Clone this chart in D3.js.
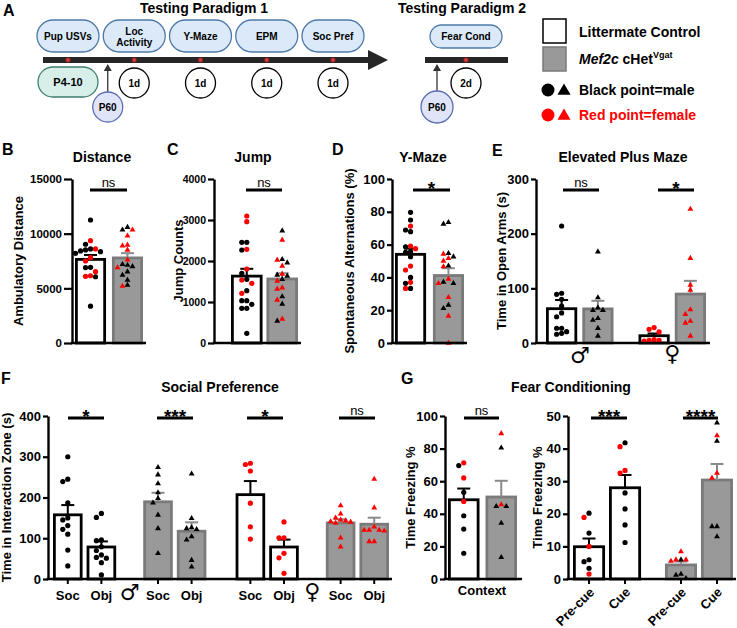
<!DOCTYPE html>
<html><head><meta charset="utf-8">
<script src="https://cdn.jsdelivr.net/npm/d3@7"></script>
<style>body{margin:0;background:#fff}svg{display:block}</style>
</head><body><script>
// ================= DATA =================
// Panel A schematic
const paradigm1Stages = ["Pup USVs", "Loc|Activity", "Y-Maze", "EPM", "Soc Pref"];
const paradigm1Gaps = ["1d", "1d", "1d", "1d"];
const paradigm2Stages = ["Fear Cond"];
const paradigm2Gaps = ["2d"];
const legendLabels = ["Littermate Control", "Mef2c cHet", "Black point=male", "Red point=female"];

// Panel B: Ambulatory distance
const distCtrlM = [11250, 9030, 8600, 8510, 8420, 8350, 8200, 6920, 6900, 6060, 3370];
const distCtrlF = [9360, 8600, 7800, 7500, 6520, 6150, 6100];
const distHetM = [10590, 10350, 7200, 7000, 7130, 6520, 6210, 5750, 5300];
const distHetF = [10350, 9800, 8970, 8900, 8510, 7600, 6900, 5200];
const distTicks = [0, 5000, 10000, 15000];

// Panel C: Jump counts
const jumpCtrlM = [2455, 2455, 2268, 1700, 1553, 1276, 1032, 1032, 944, 846, 846, 236];
const jumpCtrlF = [3098, 2960, 2285, 1805, 1537, 1455, 1211];
const jumpHetM = [2739, 1959, 2041, 1659, 1634, 1553, 1130, 951, 537];
const jumpHetF = [2512, 2024, 1878, 1683, 1512, 1317, 1349, 1049, 585];
const jumpTicks = [0, 1000, 2000, 3000, 4000];

// Panel D: Y-maze spontaneous alternations (%)
const ymazeCtrlM = [79.7, 75, 67.9, 68.9, 58.7, 55.3, 55.7, 52.6, 40, 36.4, 33.3];
const ymazeCtrlF = [71.3, 59.1, 57.5, 46.9, 44.5, 37, 33.3];
const ymazeHetM = [72.6, 73.6, 52.6, 54.7, 47, 36.4, 37.2, 23.2, 21.1];
const ymazeHetF = [51.6, 54.3, 50, 46.6, 36.4, 27.8, 16.5, 0, 39];
const ymazeTicks = [0, 20, 40, 60, 80, 100];

// Panel E: EPM time in open arms (s)
const epmCtrlM = [214, 89, 91, 80, 67.7, 55, 48, 27, 27, 16, 20.7, 17.7];
const epmHetM = [167, 83, 60, 64.6, 60, 42, 45, 27, 12.8];
const epmCtrlF = [20.2, 25.1, 28.2, 3.7, 4.9, 4.9, 6.1];
const epmHetF = [245, 155, 96.7, 106, 61, 40, 52.6, 36.7, 12.9];
const epmTicks = [0, 100, 200, 300];

// Panel F: Social preference, time in interaction zone (s)
const socCtrlM = [300, 239, 245, 187, 145, 150, 131, 122, 110, 71, 32];
const objCtrlM = [161, 151, 96, 94, 79, 70, 59, 53, 51, 40, 10];
const socHetM = [274, 256, 234, 212, 198, 187, 157, 124, 63];
const objHetM = [258, 149, 126, 124, 122, 104, 96, 46, 30];
const socCtrlF = [281, 284, 265, 186, 128, 98];
const objCtrlF = [140, 101, 101, 63, 52, 14];
const socHetF = [180, 160, 150, 145, 143, 141, 140, 137, 101, 79];
const objHetF = [245, 175, 128, 120, 120, 120, 118, 92, 92];
const socTicks = [0, 100, 200, 300, 400];
const socZones = ["Soc", "Obj"];

// Panel G: Fear conditioning, time freezing %
const ctxCtrlM = [69.6, 53.2, 38.8, 30.6, 15.8];
const ctxCtrlF = [71.3, 62, 47.6];
const ctxHetM = [80.5, 44.6, 44.6, 34.3, 13.3];
const ctxHetF = [89.3, 45.6];
const preCtrlM = [20.2, 14.1, 5.3, 5.9, 3.3];
const preCtrlF = [18.9, 10, 1.5];
const cueCtrlM = [41.8, 26.4, 21.5, 16.6, 11.2];
const cueCtrlF = [40.6, 32.5, 33.3];
const preHetM = [5.9, 1.5, 1.2, 0.2];
const preHetF = [8.4, 5.9, 5.9, 5.5];
const cueHetM = [47.9, 42.3, 16.1, 16.1, 13];
const cueHetF = [44, 32.5, 31];
const ctxTicks = [0, 20, 40, 60, 80, 100];
const cueTicks = [0, 10, 20, 30, 40, 50];
const cuePhases = ["Pre-cue", "Cue"];

// ================= DRAWING =================
const W = 737, H = 628;
const svg = d3.select('body').append('svg').attr('width', W).attr('height', H);
const FONT = "'Liberation Sans',Arial,sans-serif";
const SYM = "'DejaVu Sans',sans-serif";
const GREY = '#999999', GREY_STROKE = '#7a7a7a', RED = '#ff0000';

function txt(g, s, x, y, o = {}) {
  return g.append('text').attr('x', x).attr('y', y).text(s)
    .style('font-size', (o.fs || 13) + 'px').style('font-weight', o.fw || 'bold')
    .attr('text-anchor', o.anchor || 'middle').attr('fill', o.fill || '#000')
    .style('font-family', o.ff || FONT);
}

function swarm(items, y, cx, step) {
  const pts = items.map(d => ({ ...d, py: y(d.v) })).sort((a, b) => a.py - b.py);
  const placed = [];
  pts.forEach(p => {
    for (let k = 0; k < 30; k++) {
      const off = k === 0 ? 0 : (k % 2 ? -1 : 1) * Math.ceil(k / 2) * step;
      if (!placed.some(q => Math.hypot(q.px - (cx + off), q.py - p.py) < step - 0.1)) { p.px = cx + off; break; }
    }
    placed.push(p);
  });
  return placed;
}

function drawPanel(o) {
  const g = svg.append('g');
  const y = d3.scaleLinear().domain([0, o.max]).range([o.bot, o.top]);
  o.bars.forEach(b => {
    const items = b.m.map(v => ({ v, sex: 'm' })).concat(b.f.map(v => ({ v, sex: 'f' })));
    const all = items.map(d => d.v);
    const mean = d3.mean(all), sem = d3.deviation(all) / Math.sqrt(all.length);
    const het = b.geno === 'het';
    const sw = 2.8;
    g.append('rect').attr('x', b.x + sw / 2).attr('width', b.w - sw)
      .attr('y', y(mean)).attr('height', o.bot - y(mean))
      .attr('fill', het ? GREY : '#fff').attr('stroke', het ? GREY_STROKE : '#000').attr('stroke-width', sw);
    const cx = b.x + b.w / 2;
    const ec = het ? '#8a8a8a' : '#000';
    g.append('line').attr('x1', cx).attr('x2', cx).attr('y1', y(mean)).attr('y2', y(mean + sem)).attr('stroke', ec).attr('stroke-width', 2);
    g.append('line').attr('x1', cx - 6.5).attr('x2', cx + 6.5).attr('y1', y(mean + sem)).attr('y2', y(mean + sem)).attr('stroke', ec).attr('stroke-width', 2);
    const pts = swarm(items, y, cx, o.step || 5);
    pts.forEach(p => {
      const col = p.sex === 'm' ? '#000' : RED;
      if (het) g.append('path').attr('d', d3.symbol(d3.symbolTriangle, 15)()).attr('transform', `translate(${p.px},${p.py})`).attr('fill', col);
      else g.append('circle').attr('cx', p.px).attr('cy', p.py).attr('r', 2.6).attr('fill', col);
    });
    if (o.xTicks) g.append('line').attr('x1', cx).attr('x2', cx).attr('y1', o.bot).attr('y2', o.bot + 5).attr('stroke', '#000').attr('stroke-width', 2);
  });
  const ax = g.append('g').attr('transform', `translate(${o.axisX},0)`)
    .call(d3.axisLeft(y).tickValues(o.ticks).tickSize(o.tick || 5).tickSizeOuter(0).tickPadding(2).tickFormat(d3.format('d')));
  ax.select('.domain').attr('stroke', '#000').attr('stroke-width', 2.4);
  ax.selectAll('.tick line').attr('stroke', '#000').attr('stroke-width', 2.2);
  ax.selectAll('.tick text').style('font-size', (o.fs || 13) + 'px').style('font-weight', 'bold').style('font-family', FONT).attr('fill', '#000');
  g.append('line').attr('x1', o.axisX - 1.2).attr('x2', o.axisEnd).attr('y1', o.bot).attr('y2', o.bot).attr('stroke', '#000').attr('stroke-width', 2.4);
  txt(g, o.ytitle, o.ytitleX, (o.top + o.bot) / 2, { fs: 13 })
    .attr('transform', `rotate(-90,${o.ytitleX},${(o.top + o.bot) / 2})`).attr('dy', '0.35em');
  (o.sig || []).forEach(s => {
    g.append('line').attr('x1', s.x0).attr('x2', s.x1).attr('y1', s.y).attr('y2', s.y).attr('stroke', '#000').attr('stroke-width', 3);
    if (s.t === 'ns') txt(g, 'ns', (s.x0 + s.x1) / 2, s.y - 3.5, { fs: 13, fw: 'normal' });
    else txt(g, s.t, (s.x0 + s.x1) / 2, s.y + 4.5, { fs: 19 });
  });
  return { g, y };
}

// ---------- Panel A ----------
const A = svg.append('g');
txt(A, 'A', 3, 16, { fs: 16, anchor: 'start' });
txt(A, 'Testing Paradigm 1', 204, 13, { fs: 14 });
txt(A, 'Testing Paradigm 2', 462, 13, { fs: 14 });
const stageX = d3.scalePoint().domain(paradigm1Stages).range([68, 333]);
const PILL = '#dbe9f8', PILL_S = '#4d79a8';
A.append('rect').attr('x', 43).attr('y', 57).attr('width', 327).attr('height', 6).attr('fill', '#262626');
A.append('path').attr('d', 'M368,50 L388,60 L368,70 Z').attr('fill', '#262626');
paradigm1Stages.forEach((s, i) => {
  const x = stageX(s);
  A.append('rect').attr('x', x - 31).attr('y', 20).attr('width', 62).attr('height', 32).attr('rx', 16)
    .attr('fill', PILL).attr('stroke', PILL_S).attr('stroke-width', 1.3);
  const lines = s.split('|');
  if (lines.length === 1) txt(A, s, x, 40, { fs: 10 });
  else { txt(A, lines[0], x, 34.5, { fs: 10 }); txt(A, lines[1], x, 45.5, { fs: 10 }); }
  A.append('circle').attr('cx', x).attr('cy', 60).attr('r', 2.3).attr('fill', '#d23c3c').attr('stroke', '#8b1a1a').attr('stroke-width', 0.7);
  if (i > 0) {
    A.append('circle').attr('cx', x).attr('cy', 83).attr('r', 15).attr('fill', '#fff').attr('stroke', '#000').attr('stroke-width', 1.3);
    txt(A, paradigm1Gaps[i - 1], x, 87, { fs: 10 });
  }
});
{
  const x0 = stageX(paradigm1Stages[0]);
  A.append('rect').attr('x', x0 - 30).attr('y', 67).attr('width', 60).attr('height', 30).attr('rx', 15)
    .attr('fill', '#d7efe8').attr('stroke', '#3f7f70').attr('stroke-width', 1.3);
  txt(A, 'P4-10', x0, 86, { fs: 11 });
  const px = x0 + 0.6 * stageX.step();
  A.append('line').attr('x1', px).attr('x2', px).attr('y1', 92).attr('y2', 68).attr('stroke', '#333').attr('stroke-width', 1.3);
  A.append('path').attr('d', `M${px - 4},${71} L${px},${64} L${px + 4},${71} Z`).attr('fill', '#333');
  A.append('circle').attr('cx', px).attr('cy', 107).attr('r', 15).attr('fill', '#dfe4f8').attr('stroke', '#5b6db0').attr('stroke-width', 1.3);
  txt(A, 'P60', px, 111, { fs: 10 });
}
{
  const x2 = 466;
  A.append('rect').attr('x', 425).attr('y', 57).attr('width', 83).attr('height', 6).attr('fill', '#262626');
  A.append('rect').attr('x', x2 - 36).attr('y', 25).attr('width', 72).attr('height', 23).attr('rx', 11.5)
    .attr('fill', PILL).attr('stroke', PILL_S).attr('stroke-width', 1.3);
  txt(A, paradigm2Stages[0], x2, 40, { fs: 10 });
  A.append('circle').attr('cx', x2).attr('cy', 60).attr('r', 2.3).attr('fill', '#d23c3c').attr('stroke', '#8b1a1a').attr('stroke-width', 0.7);
  A.append('circle').attr('cx', x2).attr('cy', 83).attr('r', 15).attr('fill', '#fff').attr('stroke', '#000').attr('stroke-width', 1.3);
  txt(A, paradigm2Gaps[0], x2, 87, { fs: 10 });
  const px = 437;
  A.append('line').attr('x1', px).attr('x2', px).attr('y1', 91).attr('y2', 68).attr('stroke', '#333').attr('stroke-width', 1.3);
  A.append('path').attr('d', `M${px - 4},${71} L${px},${64} L${px + 4},${71} Z`).attr('fill', '#333');
  A.append('circle').attr('cx', px).attr('cy', 107).attr('r', 16).attr('fill', '#dfe4f8').attr('stroke', '#5b6db0').attr('stroke-width', 1.3);
  txt(A, 'P60', px, 111, { fs: 10 });
}
{
  A.append('rect').attr('x', 543).attr('y', 19).attr('width', 23).attr('height', 24).attr('fill', '#fff').attr('stroke', '#000').attr('stroke-width', 1.5);
  A.append('rect').attr('x', 543).attr('y', 47).attr('width', 23).attr('height', 24).attr('fill', GREY).attr('stroke', GREY_STROKE).attr('stroke-width', 1.5);
  txt(A, legendLabels[0], 579, 37, { fs: 14, anchor: 'start' });
  const t = txt(A, '', 579, 64, { fs: 14, anchor: 'start' });
  t.append('tspan').style('font-style', 'italic').text('Mef2c');
  t.append('tspan').text(' cHet');
  t.append('tspan').style('font-size', '9px').attr('dy', -6).text('Vgat');
  [['#000', 90, legendLabels[2]], [RED, 115, legendLabels[3]]].forEach(([c, yy, lab]) => {
    A.append('circle').attr('cx', 548).attr('cy', yy).attr('r', 6.5).attr('fill', c);
    A.append('path').attr('d', d3.symbol(d3.symbolTriangle, 75)()).attr('transform', `translate(564,${yy + 1})`).attr('fill', c);
    txt(A, lab, 579, yy + 5, { fs: 14, anchor: 'start', fill: c });
  });
}

// ---------- Row 1 panels ----------
const R1T = 179, R1B = 343;
txt(svg, 'B', 2, 155, { fs: 16, anchor: 'start' });
txt(svg, 'C', 167, 155, { fs: 16, anchor: 'start' });
txt(svg, 'D', 332, 155, { fs: 16, anchor: 'start' });
txt(svg, 'E', 492, 156, { fs: 16, anchor: 'start' });
txt(svg, 'Distance', 102, 162, { fs: 14 });
txt(svg, 'Jump', 253, 162, { fs: 14 });
txt(svg, 'Y-Maze', 423, 162, { fs: 14 });
txt(svg, 'Elevated Plus Maze', 623, 162, { fs: 14 });

function twoBars(range, pad, ctrlM, ctrlF, hetM, hetF) {
  const xb = d3.scaleBand().domain(['ctrl', 'het']).range(range).paddingInner(pad);
  return [
    { x: xb('ctrl'), w: xb.bandwidth(), geno: 'ctrl', m: ctrlM, f: ctrlF },
    { x: xb('het'), w: xb.bandwidth(), geno: 'het', m: hetM, f: hetF }];
}
drawPanel({ axisX: 72, axisEnd: 146, top: R1T, bot: R1B, max: 15000, ticks: distTicks, fs: 11.5, tick: 8,
  bars: twoBars([75, 143], 0.16, distCtrlM, distCtrlF, distHetM, distHetF),
  ytitle: 'Ambulatory Distance', ytitleX: 18, sig: [{ x0: 90, x1: 127, y: 190, t: 'ns' }] });
drawPanel({ axisX: 214, axisEnd: 301, top: R1T, bot: R1B, max: 4000, ticks: jumpTicks, fs: 10.5, tick: 6,
  bars: twoBars([231, 298], 0.11, jumpCtrlM, jumpCtrlF, jumpHetM, jumpHetF),
  ytitle: 'Jump Counts', ytitleX: 178, sig: [{ x0: 246, x1: 282, y: 190, t: 'ns' }] });
drawPanel({ axisX: 392, axisEnd: 467, top: R1T, bot: R1B, max: 100, ticks: ymazeTicks, fs: 13,
  bars: twoBars([395, 464], 0.18, ymazeCtrlM, ymazeCtrlF, ymazeHetM, ymazeHetF),
  ytitle: 'Spontaneous Alternations (%)', ytitleX: 349, sig: [{ x0: 413, x1: 450, y: 190, t: '*' }] });
{
  const sexE = d3.scaleBand().domain(['m', 'f']).range([546, 706]).paddingInner(0.27);
  const genoE = d3.scaleBand().domain(['ctrl', 'het']).range([0, sexE.bandwidth()]).paddingInner(0.14);
  const src = { m: { ctrl: epmCtrlM, het: epmHetM }, f: { ctrl: epmCtrlF, het: epmHetF } };
  const bars = [];
  ['m', 'f'].forEach(s => ['ctrl', 'het'].forEach(gt => {
    bars.push({ x: sexE(s) + genoE(gt), w: genoE.bandwidth(), geno: gt,
      m: s === 'm' ? src[s][gt] : [], f: s === 'f' ? src[s][gt] : [] });
  }));
  drawPanel({ axisX: 536, axisEnd: 710, top: R1T, bot: R1B, max: 300, ticks: epmTicks, fs: 13, bars,
    ytitle: 'Time in Open Arms (s)', ytitleX: 501,
    sig: [{ x0: 563, x1: 599, y: 190, t: 'ns' }, { x0: 658, x1: 694, y: 190, t: '*' }] });
  txt(svg, '♂', sexE('m') + sexE.bandwidth() / 2, 363, { fs: 22, ff: SYM });
  txt(svg, '♀', sexE('f') + sexE.bandwidth() / 2, 361, { fs: 22, ff: SYM });
}

// ---------- Row 2 panels ----------
const R2T = 416, R2B = 579;
txt(svg, 'F', 1, 384, { fs: 16, anchor: 'start' });
txt(svg, 'G', 401, 384, { fs: 16, anchor: 'start' });
txt(svg, 'Social Preference', 220, 392, { fs: 14 });
txt(svg, 'Fear Conditioning', 571, 392, { fs: 14 });
{
  const sexF = d3.scaleBand().domain(['m', 'f']).range([53, 389]).paddingInner(0.16);
  const genoF = d3.scaleBand().domain(['ctrl', 'het']).range([0, sexF.bandwidth()]).paddingInner(0.3);
  const zoneF = d3.scaleBand().domain(socZones).range([0, genoF.bandwidth()]).paddingInner(0.12);
  const src = {
    m: { ctrl: { Soc: socCtrlM, Obj: objCtrlM }, het: { Soc: socHetM, Obj: objHetM } },
    f: { ctrl: { Soc: socCtrlF, Obj: objCtrlF }, het: { Soc: socHetF, Obj: objHetF } } };
  const bars = [];
  ['m', 'f'].forEach(s => ['ctrl', 'het'].forEach(gt => socZones.forEach(z => {
    bars.push({ x: sexF(s) + genoF(gt) + zoneF(z), w: zoneF.bandwidth(), geno: gt, zone: z,
      m: s === 'm' ? src[s][gt][z] : [], f: s === 'f' ? src[s][gt][z] : [] });
  })));
  drawPanel({ axisX: 48, axisEnd: 392, top: R2T, bot: R2B, max: 400, ticks: socTicks, fs: 13, bars, xTicks: true,
    ytitle: 'Time in Interaction Zone (s)', ytitleX: 6,
    sig: [{ x0: 68, x1: 104, y: 418, t: '*' }, { x0: 157, x1: 193, y: 418, t: '***' },
      { x0: 247, x1: 283, y: 418, t: '*' }, { x0: 339, x1: 375, y: 418, t: 'ns' }] });
  bars.forEach(b => txt(svg, b.zone, b.x + b.w / 2, 600, { fs: 13 }));
  txt(svg, '♂', sexF('m') + sexF.bandwidth() / 2, 600, { fs: 22, ff: SYM });
  txt(svg, '♀', sexF('f') + sexF.bandwidth() / 2, 599, { fs: 22, ff: SYM });
}
drawPanel({ axisX: 445, axisEnd: 522, top: R2T, bot: R2B, max: 100, ticks: ctxTicks, fs: 13,
  bars: twoBars([448, 517], 0.16, ctxCtrlM, ctxCtrlF, ctxHetM, ctxHetF),
  ytitle: 'Time Freezing %', ytitleX: 410, sig: [{ x0: 464, x1: 499, y: 418, t: 'ns' }] });
txt(svg, 'Context', 482, 595, { fs: 13 });
{
  const genoG = d3.scaleBand().domain(['ctrl', 'het']).range([573, 733]).paddingInner(0.26);
  const phaseG = d3.scaleBand().domain(cuePhases).range([0, genoG.bandwidth()]).paddingInner(0.11);
  const src = { ctrl: { 'Pre-cue': [preCtrlM, preCtrlF], Cue: [cueCtrlM, cueCtrlF] },
    het: { 'Pre-cue': [preHetM, preHetF], Cue: [cueHetM, cueHetF] } };
  const bars = [];
  ['ctrl', 'het'].forEach(gt => cuePhases.forEach(ph => {
    bars.push({ x: genoG(gt) + phaseG(ph), w: phaseG.bandwidth(), geno: gt, phase: ph, m: src[gt][ph][0], f: src[gt][ph][1] });
  }));
  drawPanel({ axisX: 568, axisEnd: 736, top: R2T, bot: R2B, max: 50, ticks: cueTicks, fs: 13, bars, xTicks: true,
    ytitle: 'Time Freezing %', ytitleX: 537,
    sig: [{ x0: 591, x1: 627, y: 418, t: '***' }, { x0: 683, x1: 718, y: 418, t: '****' }] });
  bars.forEach(b => {
    const ax = b.x + b.w / 2 + 6, ay = 593;
    txt(svg, b.phase, ax, ay, { fs: 13, anchor: 'end' }).attr('transform', `rotate(-45,${ax},${ay})`);
  });
}
</script></body></html>
